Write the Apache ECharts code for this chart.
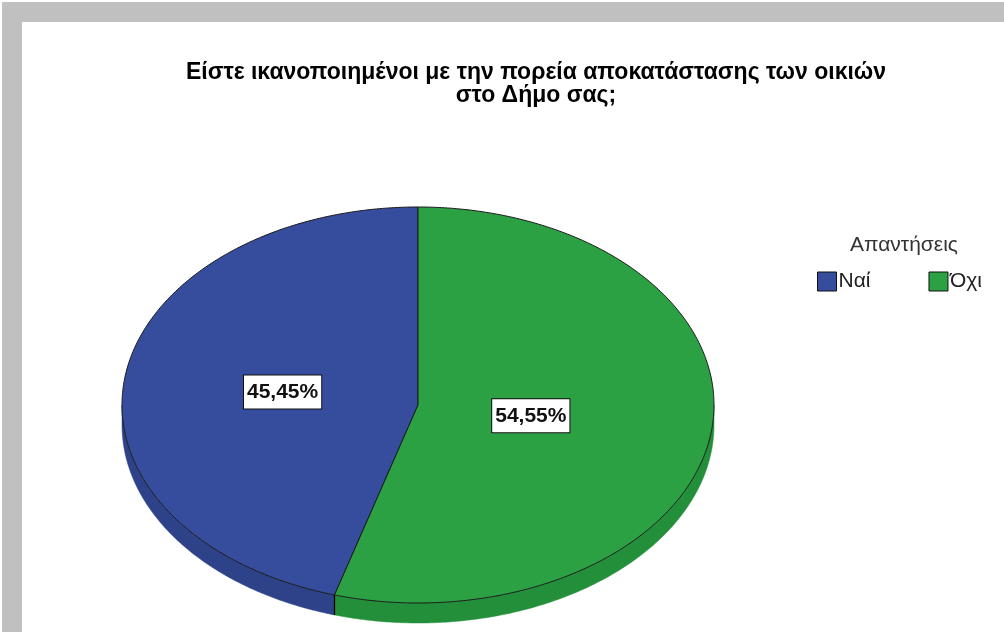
<!DOCTYPE html>
<html>
<head>
<meta charset="utf-8" />
<title>Απαντήσεις</title>
<script src="https://cdn.jsdelivr.net/npm/echarts@6/dist/echarts.min.js"></script>
<style>
    html, body { margin: 0; padding: 0; background: #fff; }
    #container { width: 1004px; height: 632px; }
</style>
</head>
<body>
<div id="container"></div>
<script type="text/javascript">
    // data
    var categories = ['Ναί', 'Όχι'];
    var percentages = [45.45, 54.55];
    var labelTexts = ['45,45%', '54,55%'];

    var topColors = ['#364c9c', '#2ba143'];
    var sideColors = ['#2e4289', '#238f3a'];

    // geometry of the tilted pie
    var cx = 418, cy = 405, rx = 296, ry = 198, depth = 20;

    var total = percentages.reduce(function (a, b) { return a + b; }, 0);

    function arcPoints(a, b, dy) {
        var pts = [];
        var n = Math.max(8, Math.ceil((b - a) / 0.01));
        for (var k = 0; k <= n; k++) {
            var t = a + (b - a) * k / n;
            pts.push([cx + rx * Math.cos(t), cy + ry * Math.sin(t) + dy]);
        }
        return pts;
    }

    function renderItem(params, api) {
        var i = api.value(0);
        var before = 0;
        for (var j = 0; j < i; j++) before += percentages[j];
        // slices run counterclockwise from 12 o'clock
        var b = -Math.PI / 2 - 2 * Math.PI * before / total;
        var a = -Math.PI / 2 - 2 * Math.PI * (before + percentages[i]) / total;

        var children = [];
        // visible side wall (front half of the ellipse)
        for (var k = -3; k <= 1; k++) {
            var lo = Math.max(a, 2 * Math.PI * k);
            var hi = Math.min(b, 2 * Math.PI * k + Math.PI);
            if (hi > lo) {
                var pts = arcPoints(lo, hi, 0).concat(arcPoints(lo, hi, depth).reverse());
                children.push({
                    type: 'polygon',
                    shape: { points: pts },
                    style: { fill: sideColors[i], stroke: sideColors[i], lineWidth: 0.5 }
                });
            }
        }
        // edge between walls
        [a, b].forEach(function (t) {
            if (Math.sin(t) > 0) {
                var x = cx + rx * Math.cos(t), y = cy + ry * Math.sin(t);
                children.push({
                    type: 'line',
                    shape: { x1: x, y1: y, x2: x, y2: y + depth },
                    style: { stroke: '#000', lineWidth: 1.2 }
                });
            }
        });
        // top face
        children.push({
            type: 'polygon',
            shape: { points: [[cx, cy]].concat(arcPoints(a, b, 0)) },
            style: { fill: topColors[i], stroke: '#1a1a1a', lineWidth: 1 }
        });
        // label at the sector centroid
        var m = (a + b) / 2;
        var half = (b - a) / 2;
        var d = (2 / 3) * Math.sin(half) / half;
        children.push({
            type: 'text',
            style: {
                text: labelTexts[i],
                x: cx + rx * d * Math.cos(m),
                y: cy + ry * d * Math.sin(m),
                align: 'center',
                verticalAlign: 'middle',
                font: 'bold 21px "Liberation Sans Narrow", "Arial Narrow", "Liberation Sans", Arial, sans-serif',
                fill: '#111',
                backgroundColor: '#fff',
                borderColor: '#111',
                borderWidth: 1,
                padding: [7, 3, 5, 3]
            }
        });
        return { type: 'group', children: children };
    }

    var dom = document.getElementById('container');
    var myChart = echarts.init(dom, null, { renderer: 'canvas' });

    var series = categories.map(function (name, i) {
        return {
            type: 'custom',
            name: name,
            coordinateSystem: 'none',
            data: [[i, percentages[i]]],
            itemStyle: { color: topColors[i] },
            renderItem: renderItem
        };
    });

    var option = {
        animation: false,
        backgroundColor: '#fff',
        title: [
            {
                text: 'Είστε ικανοποιημένοι με την πορεία αποκατάστασης των οικιών\nστο Δήμο σας;',
                left: 536,
                top: 61,
                padding: 0,
                textAlign: 'center',
                textStyle: {
                    fontFamily: '"Liberation Sans", Arial, sans-serif',
                    fontSize: 23,
                    fontWeight: 'bold',
                    color: '#000',
                    lineHeight: 23
                }
            },
            {
                text: 'Απαντήσεις',
                left: 850,
                top: 235,
                padding: 0,
                textStyle: {
                    fontFamily: '"Liberation Sans", Arial, sans-serif',
                    fontSize: 21,
                    fontWeight: 'normal',
                    color: '#333'
                }
            }
        ],
        legend: {
            data: categories,
            left: 817,
            top: 271,
            padding: 0,
            itemWidth: 19,
            itemHeight: 19,
            itemGap: 58,
            icon: 'rect',
            selectedMode: false,
            itemStyle: { borderColor: '#111', borderWidth: 1 },
            textStyle: {
                fontFamily: '"Liberation Sans", Arial, sans-serif',
                fontSize: 21,
                color: '#222',
                padding: [3, 0, 0, -3]
            }
        },
        graphic: [
            { type: 'rect', shape: { x: 2, y: 2, width: 1002, height: 20 }, style: { fill: '#c0c0c0' }, z: 0 },
            { type: 'rect', shape: { x: 2, y: 2, width: 20, height: 630 }, style: { fill: '#c0c0c0' }, z: 0 }
        ],
        series: series
    };

    myChart.setOption(option);
</script>
</body>
</html>
